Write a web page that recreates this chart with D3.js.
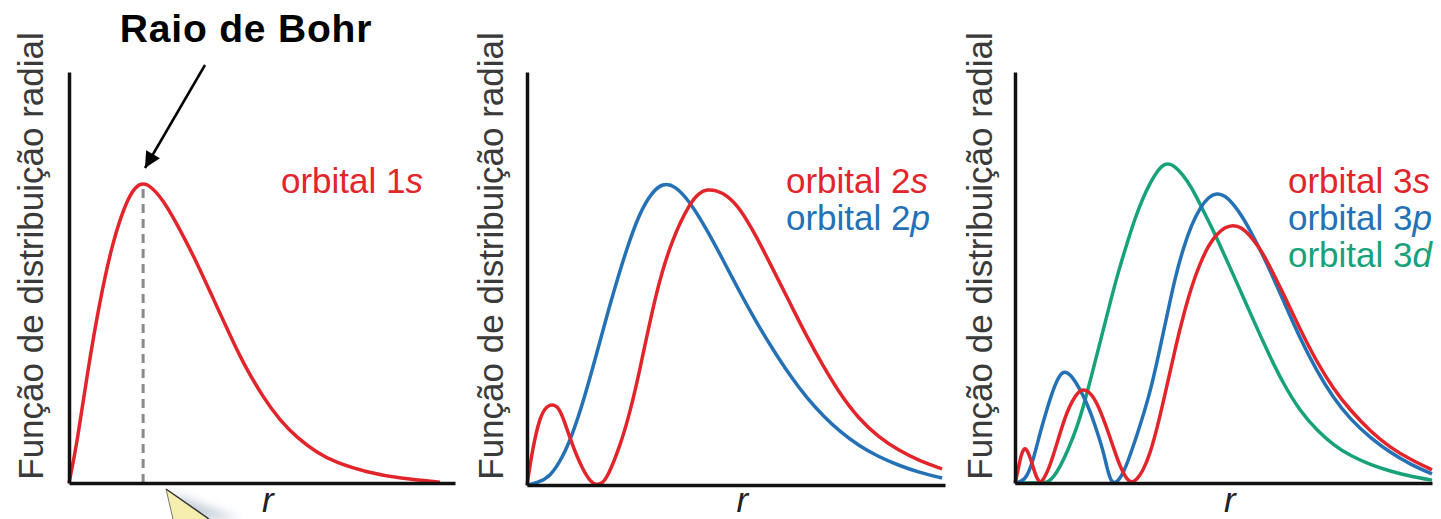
<!DOCTYPE html>
<html>
<head>
<meta charset="utf-8">
<script src="https://cdn.jsdelivr.net/npm/d3@7"></script>
<style>
  body { margin: 0; background: #fff; }
  text { font-family: "Liberation Sans", Arial, sans-serif; }
</style>
</head>
<body>
<script>
// radial distribution curves
// r and value are in percent of the axis length / height
var orbital1s = [[0,0],[2.1,9.7],[4.7,26.5],[8.0,44.5],[11.4,59.1],[15.0,68.9],[17.3,72.2],
  [19.2,73.0],[21.2,72.2],[24.4,68.9],[28.8,61.6],[33.2,53.5],[37.3,45.0],[41.7,36.0],
  [45.1,29.2],[50.3,20.8],[54.7,15.2],[59.1,11.0],[64.2,7.4],[69.0,5.0],[77.2,2.6],
  [85.8,1.1],[96.1,0.2]];

var orbital2s = [[0,0],[1.4,9.2],[3.1,16.5],[4.6,19.0],[6.0,19.6],[7.4,19.0],[8.6,16.5],
  [11.0,9.2],[13.4,3.6],[15.2,0.8],[16.5,0],[17.8,0.3],[19.1,1.5],[22.2,9.2],[24.6,17.4],
  [27.0,27.8],[31.1,47.9],[34.9,60.0],[39.0,68.3],[41.2,70.8],[43.1,71.6],[45.4,71.3],
  [47.8,70.2],[51.0,67.0],[55.0,60.0],[58.9,52.1],[62.9,44.1],[67.0,35.8],[70.8,28.9],
  [74.9,22.0],[79.4,16.0],[84.0,11.7],[89.0,8.3],[94.0,5.8],[99.3,3.9]];

var orbital2p = [[0,0],[2.5,0.6],[5.5,1.9],[8.6,6.8],[11.0,12.6],[13.4,20.0],[15.8,28.6],
  [19.9,44.0],[23.9,57.5],[27.0,66.0],[29.8,70.8],[32.5,73.1],[35.3,72.6],[39.0,68.6],
  [43.1,61.7],[46.9,54.5],[51.0,46.5],[55.0,39.2],[58.9,32.7],[62.9,26.5],[67.0,21.0],
  [70.8,16.8],[74.9,12.9],[79.4,9.5],[84.0,6.9],[89.0,4.7],[94.0,3.0],[99.3,1.7]];

var orbital3s = [[0,0],[0.6,2.5],[1.2,5.6],[1.8,7.8],[2.4,8.6],[3.0,7.8],[3.7,6.0],[4.3,4.0],
  [5.2,1.2],[6.0,0],[6.8,0.8],[8.4,3.9],[11.5,14.6],[13.0,18.5],[14.4,21.2],[16.1,23.0],
  [17.8,22.3],[19.7,19.6],[22.1,13.2],[23.6,8.6],[25.2,4.0],[26.6,1.2],[27.8,0],[29.2,0.8],
  [30.6,2.8],[32.4,7.0],[34.5,15.0],[36.5,24.0],[38.5,33.0],[40.3,40.5],[42.4,48.0],
  [44.4,53.5],[46.4,57.8],[48.4,60.6],[50.3,62.2],[52.3,62.8],[54.3,62.2],[56.4,60.2],
  [58.4,57.5],[60.4,54.2],[64.3,46.2],[68.3,37.5],[72.4,29.4],[76.3,23.0],[80.3,17.8],
  [85.4,12.4],[90.0,8.6],[95.0,5.6],[100,3.2]];

var orbital3p = [[0,0],[1.5,0.3],[2.9,1.5],[4.5,6.0],[6.0,12.2],[7.6,17.8],[9.1,22.6],
  [10.5,26.0],[11.8,27.3],[13.3,26.4],[14.9,24.0],[16.5,21.0],[18.0,17.5],[19.6,12.8],
  [21.1,8.0],[22.1,3.5],[23.0,0.4],[23.9,0],[24.8,0.5],[26.4,3.2],[29.3,11.7],[32.4,21.9],
  [34.5,31.5],[36.5,41.0],[38.4,50.0],[40.3,57.0],[42.4,63.0],[44.4,67.0],[46.4,69.6],
  [48.4,70.6],[50.4,69.9],[52.3,68.0],[54.4,65.0],[56.4,61.5],[60.4,53.5],[64.3,44.5],
  [68.3,35.3],[72.4,27.2],[76.3,20.8],[80.3,15.6],[85.4,10.8],[90.0,7.4],[95.0,4.4],[100,2.2]];

var orbital3d = [[0,0],[6.5,0],[7.9,0.2],[9.3,1.5],[10.8,3.9],[12.8,8.2],[14.9,13.6],
  [16.8,20.0],[18.7,27.5],[20.8,35.8],[22.8,43.8],[24.8,51.5],[26.9,58.4],[28.8,64.5],
  [30.7,69.4],[32.5,73.2],[34.3,76.2],[36.0,77.8],[37.8,77.6],[40.3,75.0],[42.4,71.8],
  [44.4,67.8],[46.4,63.8],[48.4,59.6],[52.3,50.8],[56.4,41.4],[60.4,32.3],[64.3,24.2],
  [68.3,17.6],[72.4,12.8],[76.3,9.3],[80.6,6.5],[85.4,4.4],[90.2,2.8],[95.0,1.6],[100,0.7]];

var bohrRadius = 19.2;
var yLabel = "Função de distribuição radial";
var xLabel = "r";

var red = "#e2252b", blue = "#2471b6", green = "#17a27a";

var panels = [
  { x0: 69, x1: 455, y0: 483, y1: 72, labelX: 43, labelsAt: 281,
    series: [{ name: "1", sub: "s", data: orbital1s, color: red }] },
  { x0: 527, x1: 945, y0: 485, y1: 72, labelX: 503, labelsAt: 786,
    series: [{ name: "2", sub: "s", data: orbital2s, color: red },
             { name: "2", sub: "p", data: orbital2p, color: blue }] },
  { x0: 1015, x1: 1432, y0: 483, y1: 72, labelX: 992, labelsAt: 1288,
    series: [{ name: "3", sub: "s", data: orbital3s, color: red },
             { name: "3", sub: "p", data: orbital3p, color: blue },
             { name: "3", sub: "d", data: orbital3d, color: green }] }
];

var svg = d3.select("body").append("svg")
    .attr("width", 1441)
    .attr("height", 519);

var defs = svg.append("defs");

// arrow head
defs.append("marker")
    .attr("id", "arrowhead")
    .attr("viewBox", "0 -5 10 10")
    .attr("refX", 10)
    .attr("refY", 0)
    .attr("markerWidth", 22)
    .attr("markerHeight", 16)
    .attr("markerUnits", "userSpaceOnUse")
    .attr("orient", "auto")
  .append("path")
    .attr("d", "M0,-5L10,0L0,5Z")
    .attr("fill", "black");

panels.forEach(function(p, i) {
  var x = d3.scaleLinear().domain([0, 100]).range([p.x0, p.x1]);
  var y = d3.scaleLinear().domain([0, 100]).range([p.y0, p.y1]);
  var g = svg.append("g");

  var line = d3.line()
      .x(function(d) { return x(d[0]); })
      .y(function(d) { return y(d[1]); })
      .curve(d3.curveBasis);

  // dashed Bohr radius marker in the first panel
  if (i === 0) {
    var peak = orbital1s.find(function(d) { return d[0] === bohrRadius; });
    g.append("line")
        .attr("x1", x(bohrRadius)).attr("x2", x(bohrRadius))
        .attr("y1", y(0)).attr("y2", y(peak[1]))
        .attr("stroke", "#8a8a8a")
        .attr("stroke-width", 3)
        .attr("stroke-dasharray", "9,6");
  }

  p.series.slice().reverse().forEach(function(s) {
    g.append("path")
        .datum(s.data)
        .attr("fill", "none")
        .attr("stroke", s.color)
        .attr("stroke-width", 3.5)
        .attr("stroke-linejoin", "round")
        .attr("d", line);
  });

  // axes without ticks
  g.append("g")
      .attr("transform", "translate(" + p.x0 + ",0)")
      .call(d3.axisLeft(y).ticks(0).tickSizeOuter(0));
  g.append("g")
      .attr("transform", "translate(0," + y(0) + ")")
      .call(d3.axisBottom(x).ticks(0).tickSizeOuter(0));
  g.selectAll(".domain").attr("stroke", "#111").attr("stroke-width", 3.5);

  g.append("text")
      .attr("transform", "translate(" + p.labelX + "," + 256 + ") rotate(-90)")
      .attr("text-anchor", "middle")
      .attr("font-size", 35)
      .attr("fill", "#3a3a3a")
      .text(yLabel);

  g.append("text")
      .attr("x", x(51.5))
      .attr("y", 512)
      .attr("text-anchor", "middle")
      .attr("font-size", 35)
      .attr("font-style", "italic")
      .attr("fill", "#222")
      .text(xLabel);

  p.series.forEach(function(s, k) {
    var t = g.append("text")
        .attr("x", p.labelsAt)
        .attr("y", 193 + k * 37)
        .attr("font-size", 35)
        .attr("fill", s.color);
    t.append("tspan").text("orbital " + s.name);
    t.append("tspan").attr("font-style", "italic").text(s.sub);
  });
});

// title and arrow
svg.append("text")
    .attr("x", 246)
    .attr("y", 42)
    .attr("text-anchor", "middle")
    .attr("font-family", "'Open Sans', sans-serif")
    .attr("font-weight", "bold")
    .attr("font-size", 39)
    .attr("letter-spacing", 0.8)
    .attr("fill", "#000")
    .text("Raio de Bohr");

svg.append("line")
    .attr("x1", 205).attr("y1", 65)
    .attr("x2", 145).attr("y2", 168)
    .attr("stroke", "black")
    .attr("stroke-width", 2.5)
    .attr("marker-end", "url(#arrowhead)");

// corner of a callout peeking in from below
var shade = defs.append("filter").attr("id", "soft")
    .attr("x", "-50%").attr("y", "-50%").attr("width", "200%").attr("height", "200%");
shade.append("feGaussianBlur").attr("stdDeviation", 5);
svg.append("polygon")
    .attr("points", "170,492 190,519 240,519")
    .attr("fill", "#c9d0dc")
    .attr("filter", "url(#soft)");
svg.append("polygon")
    .attr("points", "166,489 173,519 209,519")
    .attr("fill", "#f6eeae")
    .attr("stroke", "none");
svg.append("line")
    .attr("x1", 166).attr("y1", 489).attr("x2", 209).attr("y2", 519)
    .attr("stroke", "#333").attr("stroke-width", 1.5);
svg.append("line")
    .attr("x1", 166).attr("y1", 489).attr("x2", 173).attr("y2", 519)
    .attr("stroke", "#777").attr("stroke-width", 1);
</script>
</body>
</html>
